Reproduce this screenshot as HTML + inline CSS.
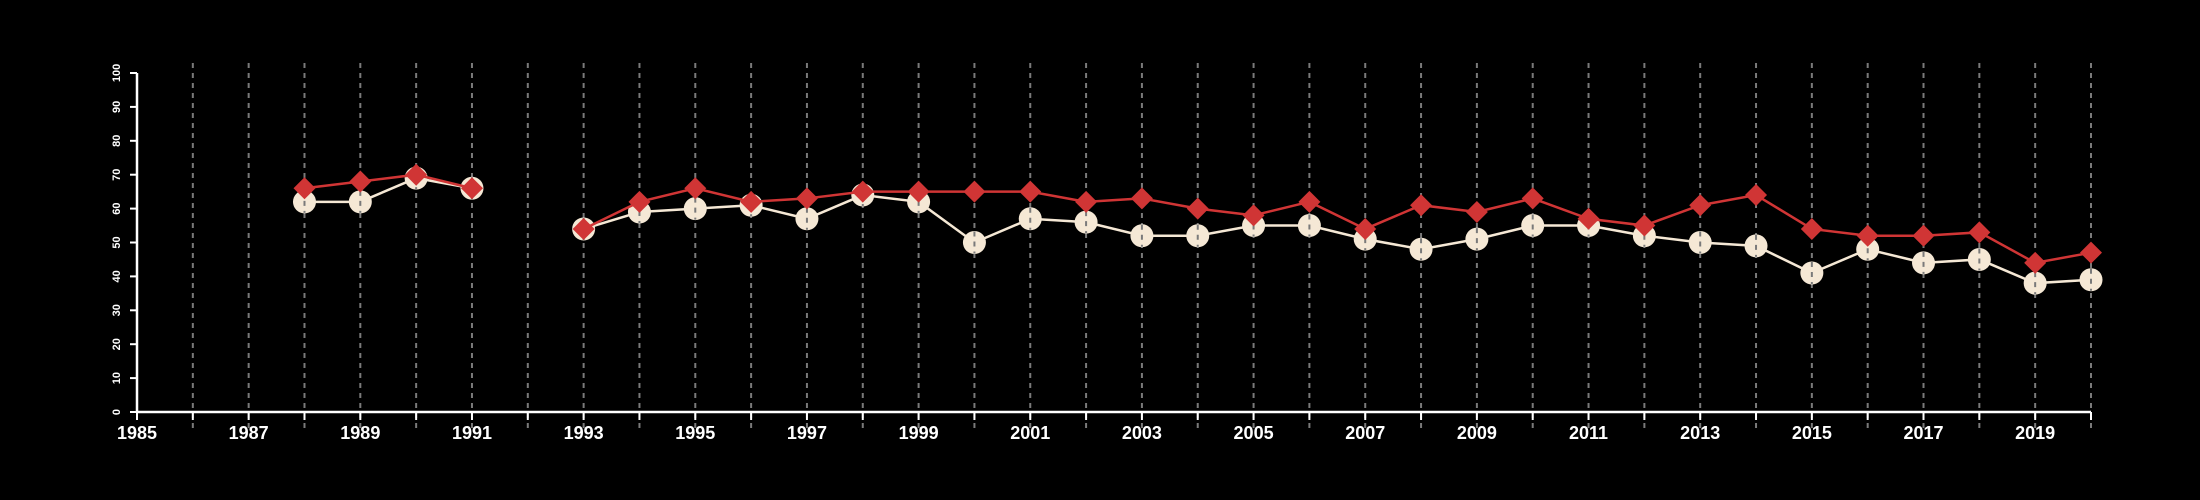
<!DOCTYPE html>
<html><head><meta charset="utf-8"><style>
html,body{margin:0;padding:0;background:#000;}
svg{display:block;font-family:"Liberation Sans",sans-serif;}
</style></head><body>
<svg id="chart" width="2200" height="500" viewBox="0 0 2200 500">
<rect width="2200" height="500" fill="#000"/>
<g id="grid"></g><g id="axes"></g><g id="series"></g>
</svg>
<script>
const years = [1988,1989,1990,1991,1993,1994,1995,1996,1997,1998,1999,2000,2001,2002,2003,2004,2005,2006,2007,2008,2009,2010,2011,2012,2013,2014,2015,2016,2017,2018,2019,2020];
const circleValues = [62,62,69,66,54,59,60,61,57,64,62,50,57,56,52,52,55,55,51,48,51,55,55,52,50,49,41,48,44,45,38,39];
const diamondValues = [66,68,70,66,54,62,66,62,63,65,65,65,65,62,63,60,58,62,54,61,59,63,57,55,61,64,54,52,52,53,44,47];
const yTicks = [0,10,20,30,40,50,60,70,80,90,100];
const xMin = 1985, xMax = 2020;

const NS='http://www.w3.org/2000/svg';
const X0=137,X1=2091,Y0=412,Y1=73;
function xs(v){return X0+(v-xMin)/(xMax-xMin)*(X1-X0);}
function ys(v){return Y0-v/100*(Y0-Y1);}
function mk(tag,attrs,parent){const e=document.createElementNS(NS,tag);for(const k in attrs)e.setAttribute(k,attrs[k]);parent.appendChild(e);return e;}
const grid=document.getElementById('grid'),axes=document.getElementById('axes'),ser=document.getElementById('series');

for(let yr=xMin+1;yr<=xMax;yr++){
  const l=mk('line',{x1:xs(yr),x2:xs(yr),y1:Y1-10,y2:Y0+20,stroke:'#7a7a7a','stroke-width':2,'stroke-dasharray':'5,5'},grid);
  
  
}
let a=mk('line',{x1:X0,x2:X1,y1:Y0,y2:Y0,stroke:'#fff','stroke-width':2.5},axes);


a=mk('line',{x1:X0,x2:X0,y1:Y0,y2:Y1,stroke:'#fff','stroke-width':2.5},axes);


for(let yr=xMin;yr<=xMax;yr++){
  const t=mk('line',{x1:xs(yr),x2:xs(yr),y1:Y0,y2:Y0+8,stroke:'#fff','stroke-width':2},axes);
  
  
  if((yr-xMin)%2===0){
    const tx=mk('text',{x:xs(yr),y:Y0+27,fill:'#fff','font-size':18,'font-weight':'bold','text-anchor':'middle'},axes);
    tx.textContent=yr;
    
    
  }
}
yTicks.forEach(v=>{
  const t=mk('line',{x1:X0-7,x2:X0,y1:ys(v),y2:ys(v),stroke:'#fff','stroke-width':2},axes);
  
  
  const tx=mk('text',{x:0,y:0,fill:'#fff','font-size':11,'font-weight':'bold','text-anchor':'middle',transform:`translate(${X0-17},${ys(v)}) rotate(-90)`},axes);
  tx.textContent=v;
  
  
});
function segs(vals){const out=[];let cur=[];years.forEach((y,i)=>{if(i>0&&y-years[i-1]>1){out.push(cur);cur=[];}cur.push([xs(y),ys(vals[i])]);});out.push(cur);return out;}
segs(circleValues).forEach((s,i)=>{
  const p=mk('polyline',{points:s.map(q=>q.join(',')).join(' '),fill:'none',stroke:'#f5e8d5','stroke-width':2.5},ser);
  
  
});
years.forEach((y,i)=>{
  const c=mk('circle',{cx:xs(y),cy:ys(circleValues[i]),r:11.5,fill:'#f5e8d5'},ser);
  
  
  mk('line',{x1:xs(y),x2:xs(y),y1:ys(circleValues[i])-11,y2:ys(circleValues[i])+11,stroke:'#7a7a7a','stroke-width':2,'stroke-dasharray':'5,5'},ser);
});
segs(diamondValues).forEach((s,i)=>{
  const p=mk('polyline',{points:s.map(q=>q.join(',')).join(' '),fill:'none',stroke:'#d03535','stroke-width':2.5},ser);
  
  
});
years.forEach((y,i)=>{
  const cx=xs(y),cy=ys(diamondValues[i]),r=11;
  const d=mk('polygon',{points:`${cx},${cy-r} ${cx+r},${cy} ${cx},${cy+r} ${cx-r},${cy}`,fill:'#d03535'},ser);
  
  
});
</script>
</body></html>
